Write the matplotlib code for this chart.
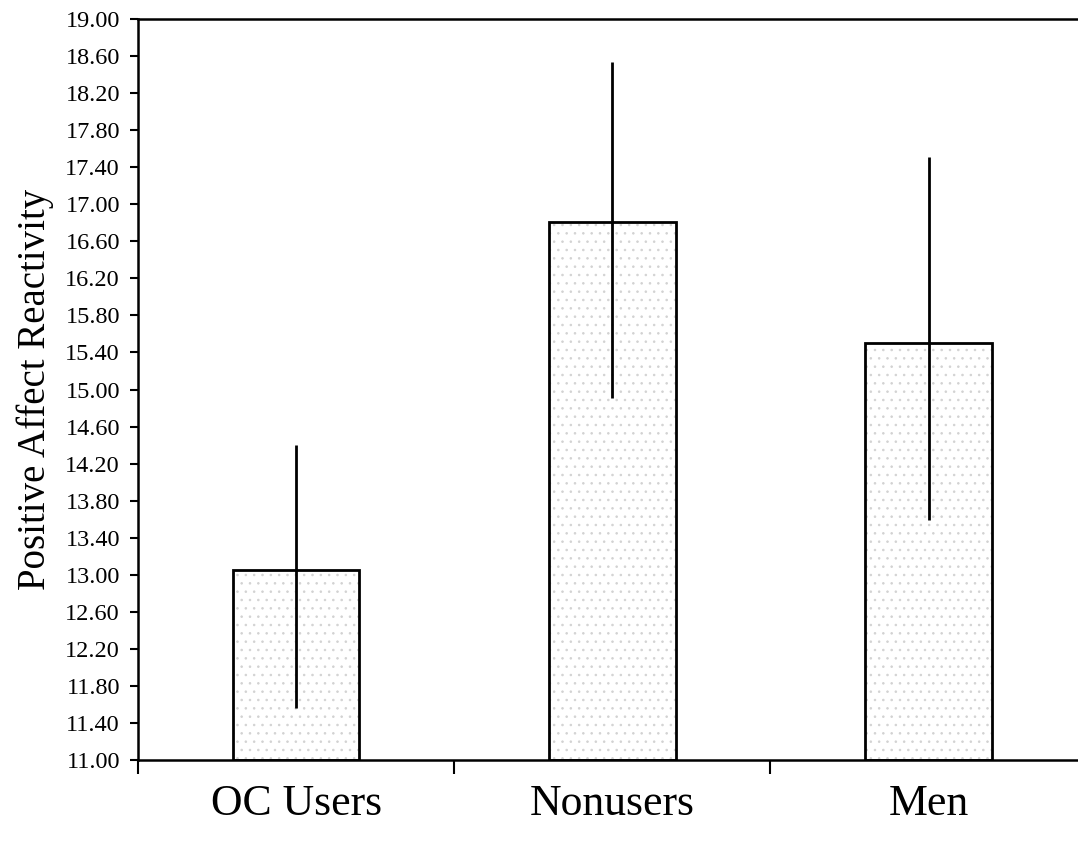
import matplotlib
matplotlib.use("Agg")
import matplotlib.pyplot as plt
import numpy as np

# values
groups = ["OC Users", "Nonusers", "Men"]
means = [13.05, 16.81, 15.50]
err_low = [1.49, 1.90, 1.91]
err_high = [1.35, 1.73, 2.01]
y_ticks = np.arange(11.0, 19.01, 0.4)

plt.rcParams["font.family"] = ["Liberation Serif", "DejaVu Serif"]
plt.rcParams["hatch.linewidth"] = 0.6
plt.rcParams["hatch.color"] = "#d2d2d2"

fig = plt.figure(figsize=(10.78, 8.44), dpi=100)
ax = fig.add_axes([0.128, 0.0995, 0.880, 0.878])

x = np.arange(len(groups))

# stippled fill, then black outline on top
ax.bar(x, [m - 11.0 for m in means], bottom=11.0, width=0.40,
       facecolor="white", edgecolor="#d2d2d2", hatch="..", linewidth=0, zorder=2)
ax.bar(x, [m - 11.0 for m in means], bottom=11.0, width=0.40,
       facecolor="none", edgecolor="black", linewidth=2.0, zorder=3)

ax.errorbar(x, means, yerr=[err_low, err_high], fmt="none",
            ecolor="black", elinewidth=2.0, capsize=0, zorder=4)

ax.set_xlim(-0.5, 2.5)
ax.set_ylim(11.0, 19.0)

ax.set_yticks(y_ticks)
ax.set_yticklabels([f"{v:.2f}" for v in y_ticks], fontsize=17.5)
ax.tick_params(axis="y", direction="out", length=6, width=1.5, pad=7)

# boundary ticks between categories, labels centred under the bars
ax.set_xticks([-0.5, 0.5, 1.5, 2.5])
ax.set_xticklabels([])
ax.tick_params(axis="x", which="major", direction="out", length=10, width=1.5)
ax.set_xticks(x, minor=True)
ax.set_xticklabels(groups, minor=True, fontsize=31.5)
ax.tick_params(axis="x", which="minor", length=0, pad=17)

ax.set_ylabel("Positive Affect Reactivity", fontsize=28, labelpad=8)

for side in ["left", "bottom", "top", "right"]:
    ax.spines[side].set_linewidth(1.8)

fig.savefig("out.png", dpi=100, facecolor="white")
